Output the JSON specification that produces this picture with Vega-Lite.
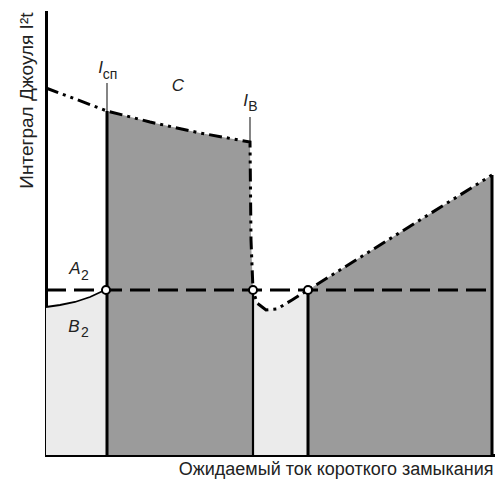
{
  "$schema": "https://vega.github.io/schema/vega-lite/v6.json",
  "width": 447,
  "height": 443,
  "autosize": {"type": "none"},
  "padding": {"left": 46, "top": 12, "right": 3, "bottom": 30},
  "background": "white",
  "config": {
    "view": {"stroke": null},
    "font": "Liberation Sans",
    "axis": {
      "grid": false, "ticks": false, "labels": false,
      "domainColor": "#000", "domainWidth": 3, "domainCap": "square",
      "titleFont": "Liberation Sans", "titleFontWeight": "normal", "titleFontSize": 18, "titleColor": "#222"
    }
  },
  "datasets": {
    "curve": [
      {"i": 1, "x": 0, "y": 367}, {"i": 2, "x": 24, "y": 358}, {"i": 3, "x": 61, "y": 344},
      {"i": 4, "x": 104, "y": 333}, {"i": 5, "x": 154, "y": 322}, {"i": 6, "x": 204, "y": 313},
      {"i": 7, "x": 205, "y": 215}, {"i": 8, "x": 207, "y": 165}, {"i": 9, "x": 211, "y": 152},
      {"i": 10, "x": 220, "y": 145}, {"i": 11, "x": 231, "y": 146}, {"i": 12, "x": 246, "y": 155},
      {"i": 13, "x": 262, "y": 165}, {"i": 14, "x": 446, "y": 280}
    ],
    "dark": [
      {"seg": "a", "x": 61, "y": 344}, {"seg": "a", "x": 104, "y": 333}, {"seg": "a", "x": 154, "y": 322}, {"seg": "a", "x": 204, "y": 313},
      {"seg": "a", "x": 205, "y": 215}, {"seg": "a", "x": 207, "y": 165},
      {"seg": "b", "x": 262, "y": 165}, {"seg": "b", "x": 446, "y": 280}
    ],
    "light": [
      {"seg": "a", "x": 0, "y": 148}, {"seg": "a", "x": 14, "y": 150}, {"seg": "a", "x": 29, "y": 153}, {"seg": "a", "x": 44, "y": 158}, {"seg": "a", "x": 61, "y": 165},
      {"seg": "b", "x": 207, "y": 165}, {"seg": "b", "x": 211, "y": 152}, {"seg": "b", "x": 220, "y": 145}, {"seg": "b", "x": 231, "y": 146}, {"seg": "b", "x": 246, "y": 155}, {"seg": "b", "x": 262, "y": 165}
    ],
    "b2": [
      {"x": 0, "y": 148}, {"x": 14, "y": 150}, {"x": 29, "y": 153}, {"x": 44, "y": 158}, {"x": 59, "y": 165}
    ],
    "thick": [
      {"x": 61, "y": 0, "y2": 344}, {"x": 262, "y": 0, "y2": 165}, {"x": 446, "y": 0, "y2": 280}
    ],
    "mid": [
      {"x": 207, "y": 0, "y2": 165}
    ],
    "thin": [
      {"x": 61, "y": 344, "y2": 372}, {"x": 204, "y": 313, "y2": 338}
    ],
    "dash": [
      {"x": 0, "x2": 447, "y": 165}
    ],
    "pts": [
      {"x": 60, "y": 165}, {"x": 207, "y": 165}, {"x": 262, "y": 165}
    ],
    "big": [
      {"t": "I", "x": 54.5, "y": 387.5}, {"t": "C", "x": 132, "y": 369}, {"t": "I", "x": 199.5, "y": 354},
      {"t": "A", "x": 29, "y": 186}, {"t": "B", "x": 28, "y": 128}
    ],
    "sub": [
      {"t": "сп", "x": 64, "y": 380}, {"t": "В", "x": 207, "y": 348},
      {"t": "2", "x": 39, "y": 179}, {"t": "2", "x": 39, "y": 122}
    ]
  },
  "encoding": {
    "x": {"field": "x", "type": "quantitative", "scale": {"domain": [0, 447], "nice": false, "zero": false},
          "axis": {"title": "Ожидаемый ток короткого замыкания", "titleAnchor": "end", "titlePadding": 5}},
    "y": {"field": "y", "type": "quantitative", "scale": {"domain": [0, 443], "nice": false, "zero": false},
          "axis": {"title": "Интеграл Джоуля I²t", "titleAnchor": "end", "titlePadding": 10, "titleFontSize": 19}}
  },
  "layer": [
    {"data": {"name": "dark"}, "mark": {"type": "area", "color": "#9b9b9b", "opacity": 1},
     "encoding": {"y2": {"datum": 0}, "detail": {"field": "seg"}}},
    {"data": {"name": "light"}, "mark": {"type": "area", "color": "#ebebeb", "opacity": 1},
     "encoding": {"y2": {"datum": 0}, "detail": {"field": "seg"}}},
    {"data": {"name": "b2"}, "mark": {"type": "line", "color": "#000", "strokeWidth": 1.8}, "encoding": {}},
    {"data": {"name": "thin"}, "mark": {"type": "rule", "color": "#333", "strokeWidth": 1.2},
     "encoding": {"y2": {"field": "y2"}}},
    {"data": {"name": "mid"}, "mark": {"type": "rule", "color": "#000", "strokeWidth": 2.2},
     "encoding": {"y2": {"field": "y2"}}},
    {"data": {"name": "thick"}, "mark": {"type": "rule", "color": "#000", "strokeWidth": 3},
     "encoding": {"y2": {"field": "y2"}}},
    {"data": {"name": "dash"}, "mark": {"type": "rule", "color": "#000", "strokeWidth": 3, "strokeDash": [20, 8]},
     "encoding": {"x2": {"field": "x2"}}},
    {"data": {"name": "curve"}, "mark": {"type": "line", "color": "#000", "strokeWidth": 3, "strokeDash": [13, 5, 3, 5, 3, 5]},
     "encoding": {"order": {"field": "i"}}},
    {"data": {"name": "pts"}, "mark": {"type": "point", "shape": "circle", "filled": true, "fill": "white", "stroke": "#000", "strokeWidth": 2, "size": 65, "opacity": 1}},
    {"data": {"name": "big"}, "mark": {"type": "text", "font": "Liberation Sans", "fontStyle": "italic", "fontSize": 17, "color": "#222", "baseline": "middle", "align": "center"},
     "encoding": {"text": {"field": "t"}}},
    {"data": {"name": "sub"}, "mark": {"type": "text", "font": "Liberation Sans", "fontSize": 14, "color": "#222", "baseline": "middle", "align": "center"},
     "encoding": {"text": {"field": "t"}}}
  ]
}
